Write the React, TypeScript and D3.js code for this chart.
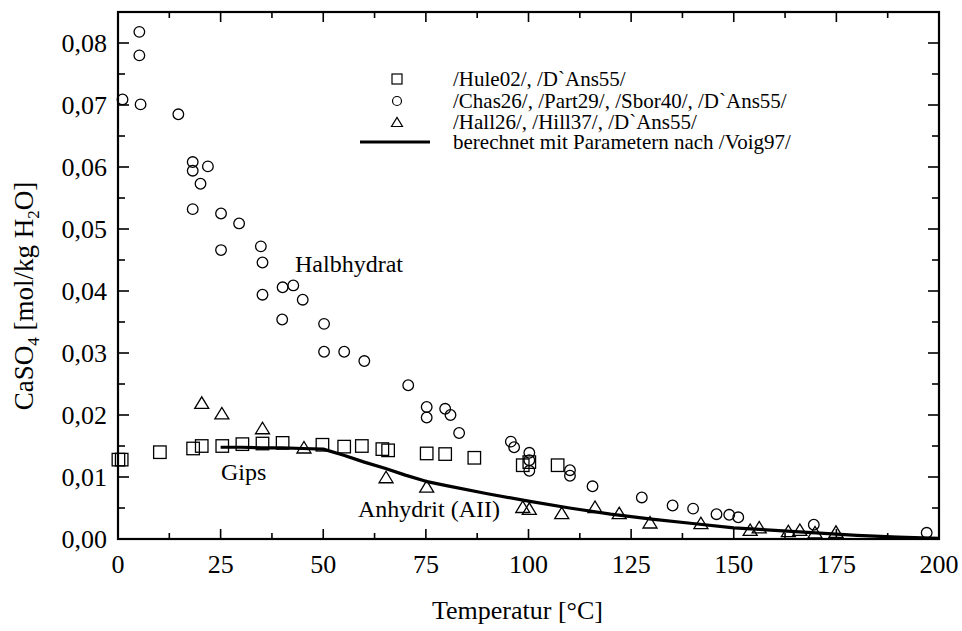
import React from "react";
import * as d3 from "d3";

// Squares: /Hule02/, /D`Ans55/
const squareT = [0.1, 0.9, 10.2, 18.3, 20.4, 25.4, 30.3, 35.2, 40.1, 49.8, 55.1, 59.4, 64.4, 65.8, 75.2, 79.7, 86.8, 98.6, 100.2, 107.1];
const squareC = [0.0128, 0.0128, 0.0140, 0.0146, 0.0150, 0.0150, 0.0153, 0.0154, 0.0155, 0.0152, 0.0149, 0.0150, 0.0145, 0.0143, 0.0138, 0.0137, 0.0131, 0.0119, 0.0124, 0.0119];

// Circles: /Chas26/, /Part29/, /Sbor40/, /D`Ans55/
const circleT = [5.2, 5.2, 1.1, 5.5, 14.7, 18.2, 18.2, 21.9, 20.1, 18.2, 25.1, 29.5, 25.1, 34.8, 35.2, 35.2, 40.1, 42.7, 45.0, 40.0, 50.2, 50.2, 55.1, 60.0, 70.7, 75.2, 75.2, 79.7, 81.0, 83.1, 95.7, 96.5, 100.2, 100.2, 100.2, 110.1, 110.1, 115.6, 127.6, 135.1, 140.1, 145.8, 148.9, 151.1, 169.5, 197.0];
const circleC = [0.0818, 0.0780, 0.0709, 0.0701, 0.0685, 0.0608, 0.0594, 0.0601, 0.0573, 0.0532, 0.0525, 0.0509, 0.0466, 0.0472, 0.0446, 0.0394, 0.0406, 0.0409, 0.0386, 0.0354, 0.0347, 0.0302, 0.0302, 0.0287, 0.0248, 0.0213, 0.0196, 0.0210, 0.0200, 0.0171, 0.0157, 0.0148, 0.0139, 0.0127, 0.0110, 0.0111, 0.0102, 0.0085, 0.0067, 0.0054, 0.0049, 0.0040, 0.0039, 0.0035, 0.0023, 0.0010];

// Triangles: /Hall26/, /Hill37/, /D`Ans55/
const triT = [20.4, 25.3, 35.2, 45.3, 65.3, 75.2, 98.6, 100.2, 108.1, 116.2, 122.1, 129.6, 142.0, 154.0, 156.2, 163.3, 166.1, 169.8, 174.9];
const triC = [0.0220, 0.0203, 0.0179, 0.0148, 0.0100, 0.0085, 0.0052, 0.0049, 0.0042, 0.0052, 0.0042, 0.0027, 0.0026, 0.0015, 0.0019, 0.0013, 0.0015, 0.0011, 0.0012];

// Calculated curve (Voig97)
const lineT = [25, 30, 35, 40, 45, 50, 55, 60, 65, 70, 75, 80, 90, 100, 110, 120, 130, 140, 150, 160, 170, 180, 190, 200];
const lineC = [0.0148, 0.0148, 0.0147, 0.0147, 0.0146, 0.0145, 0.0135, 0.0124, 0.0114, 0.0103, 0.0093, 0.0086, 0.0073, 0.0061, 0.0050, 0.0040, 0.0032, 0.0025, 0.0018, 0.0014, 0.0010, 0.0006, 0.0003, 0.0001];

const xTicks = [0, 25, 50, 75, 100, 125, 150, 175, 200];
const yTicks = [0, 0.01, 0.02, 0.03, 0.04, 0.05, 0.06, 0.07, 0.08];

const legendLabels = [
  "/Hule02/, /D`Ans55/",
  "/Chas26/, /Part29/, /Sbor40/, /D`Ans55/",
  "/Hall26/, /Hill37/, /D`Ans55/",
  "berechnet mit Parametern nach /Voig97/",
];

const W = 962;
const H = 631;
const L = 118, R = 939, T = 12, B = 539;
const FONT = "'Liberation Serif', 'Times New Roman', serif";

export default function App() {
  const x = d3.scaleLinear().domain([0, 200]).range([L, R]);
  const y = d3.scaleLinear().domain([0, 0.085]).range([B, T]);

  const xMinor = d3.range(0, 200.001, 12.5);
  const yMinor = d3.range(0, 0.0851, 0.005);

  const line = d3
    .line<number>()
    .x((_, i) => x(lineT[i]))
    .y((d) => y(d));

  const sq = 12.5;
  const triPath = (cx: number, cy: number, w: number, h: number) =>
    `M${cx - w / 2},${cy + h / 2}L${cx + w / 2},${cy + h / 2}L${cx},${cy - h / 2}Z`;

  const lgX = 397;
  const lgTextX = 453;
  const lgY = [79, 101, 122, 142];

  return (
    <svg
      width={W}
      height={H}
      style={{ position: "absolute", left: 0, top: 0, background: "#fff" }}
      fontFamily={FONT}
    >
      <rect x={0} y={0} width={W} height={H} fill="#fff" />
      {/* ticks */}
      <g stroke="#000" strokeWidth={1.6}>
        {xMinor.map((v, i) => {
          const len = i % 2 === 0 ? 10 : 6;
          return (
            <g key={"xt" + i}>
              <line x1={x(v)} x2={x(v)} y1={B} y2={B - len} />
              <line x1={x(v)} x2={x(v)} y1={T} y2={T + len} />
            </g>
          );
        })}
        {yMinor.map((v, i) => {
          const len = i % 2 === 0 ? 11 : 7;
          return (
            <g key={"yt" + i}>
              <line x1={L} x2={L + len} y1={y(v)} y2={y(v)} />
              <line x1={R} x2={R - len} y1={y(v)} y2={y(v)} />
            </g>
          );
        })}
      </g>
      <rect x={L} y={T} width={R - L} height={B - T} fill="none" stroke="#000" strokeWidth={2.2} />

      {/* tick labels */}
      <g fontSize={26} fill="#000">
        {xTicks.map((v) => (
          <text key={"xl" + v} x={x(v)} y={573} textAnchor="middle">
            {v}
          </text>
        ))}
        {yTicks.map((v) => (
          <text key={"yl" + v} x={107} y={y(v) + 9} textAnchor="end">
            {v.toFixed(2).replace(".", ",")}
          </text>
        ))}
      </g>

      {/* axis titles */}
      <text x={432} y={619} fontSize={26} fill="#000">
        Temperatur [°C]
      </text>
      <text transform="translate(33,296) rotate(-90)" textAnchor="middle" fontSize={27} fill="#000">
        CaSO
        <tspan fontSize={17} dy={6}>4</tspan>
        <tspan dy={-6}> [mol/kg H</tspan>
        <tspan fontSize={17} dy={6}>2</tspan>
        <tspan dy={-6}>O]</tspan>
      </text>

      {/* calculated curve */}
      <path d={line(lineC) || ""} fill="none" stroke="#000" strokeWidth={3.2} strokeLinejoin="round" />

      {/* markers */}
      <g fill="none" stroke="#000" strokeWidth={1.3}>
        {squareC.map((v, i) => (
          <rect key={"s" + i} x={x(squareT[i]) - sq / 2} y={y(v) - sq / 2} width={sq} height={sq} />
        ))}
        {circleC.map((v, i) => (
          <circle key={"c" + i} cx={x(circleT[i])} cy={y(v)} r={5.3} />
        ))}
        {triC.map((v, i) => (
          <path key={"t" + i} d={triPath(x(triT[i]), y(v), 14, 11.5)} />
        ))}
      </g>

      {/* annotations */}
      <g fontSize={24} fill="#000">
        <text x={295} y={272}>Halbhydrat</text>
        <text x={221} y={480}>Gips</text>
        <text x={358} y={517}>Anhydrit (AII)</text>
      </g>

      {/* legend */}
      <g fill="none" stroke="#000" strokeWidth={1.2}>
        <rect x={lgX - 5} y={lgY[0] - 5} width={10} height={10} />
        <circle cx={lgX} cy={lgY[1]} r={4.5} />
        <path d={triPath(lgX, lgY[2], 11, 9)} />
        <line x1={360} x2={430} y1={lgY[3]} y2={lgY[3]} strokeWidth={3.2} />
      </g>
      <g fontSize={21} fill="#000">
        {legendLabels.map((t, i) => (
          <text key={"lg" + i} x={lgTextX} y={lgY[i] + 7}>
            {t}
          </text>
        ))}
      </g>
    </svg>
  );
}
